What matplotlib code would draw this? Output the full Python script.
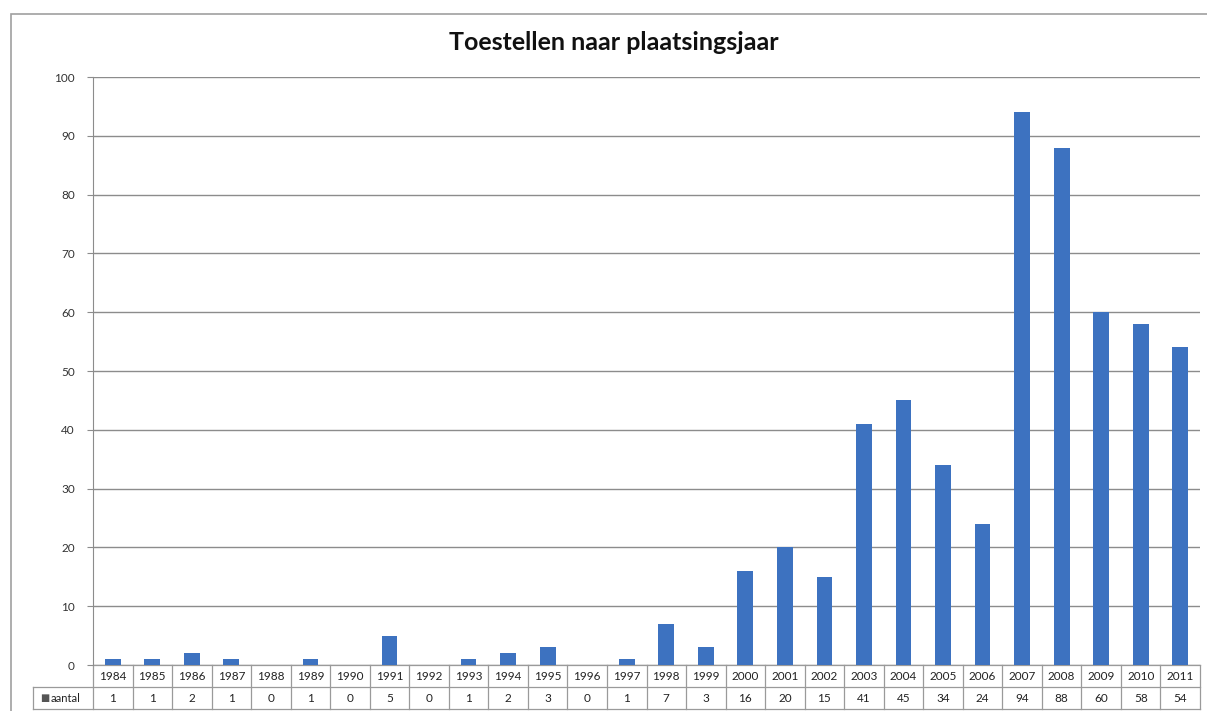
import matplotlib.pyplot as plt
from matplotlib.patches import Rectangle
from matplotlib.transforms import blended_transform_factory

years = [str(y) for y in range(1984, 2012)]
aantal = [1, 1, 2, 1, 0, 1, 0, 5, 0, 1, 2, 3, 0, 1, 7, 3,
          16, 20, 15, 41, 45, 34, 24, 94, 88, 60, 58, 54]
yticks = list(range(0, 101, 10))

bar_colour = '#3d72c0'
grid_colour = '#8c8c8c'

plt.rcParams['font.family'] = ['Lato', 'DejaVu Sans']

fig = plt.figure(figsize=(12.07, 7.11), dpi=100)
ax = fig.add_axes([93 / 1207, 1 - 665 / 711, 1107 / 1207, 588 / 711])

# outer chart frame
fig.patches.append(Rectangle((11 / 1207, -0.1), 1.2, 1 - 14 / 711 + 0.1,
                             transform=fig.transFigure, fill=False,
                             edgecolor='#a0a0a0', linewidth=1.2))

x = list(range(len(years)))
ax.bar(x, aantal, width=0.4, color=bar_colour, zorder=3)

ax.set_xlim(-0.5, len(years) - 0.5)
ax.set_ylim(0, 100)
ax.set_yticks(yticks)
ax.set_yticklabels([str(t) for t in yticks], fontsize=8.5, color='#333333')
ax.tick_params(axis='y', length=4, color=grid_colour, pad=9)
ax.set_xticks([])
ax.grid(axis='y', color=grid_colour, linewidth=1, zorder=0)
for s in ['top', 'right', 'bottom']:
    ax.spines[s].set_visible(False)
ax.spines['left'].set_color(grid_colour)

fig.text(614 / 1207, 1 - 43 / 711, 'Toestellen naar plaatsingsjaar',
         fontsize=18, fontweight='bold', ha='center', va='center',
         color='#111111')

# data table under the axis
tr = blended_transform_factory(ax.transData, ax.transAxes)
r1 = -22 / 588
r2 = -44 / 588
left_hdr = -0.5 - 60 / (1107 / len(years))
line_kw = dict(transform=tr, color='#9a9a9a', linewidth=0.9, clip_on=False)
ax.plot([-0.5, len(years) - 0.5], [0, 0], **line_kw)
ax.plot([left_hdr, len(years) - 0.5], [r1, r1], **line_kw)
ax.plot([left_hdr, len(years) - 0.5], [r2, r2], **line_kw)
ax.plot([left_hdr, left_hdr], [r1, r2], **line_kw)
for i in range(len(years) + 1):
    ax.plot([i - 0.5, i - 0.5], [0, r2], **line_kw)
for i, (yr, v) in enumerate(zip(years, aantal)):
    ax.text(i, r1 / 2, yr, transform=tr, ha='center', va='center',
            fontsize=8.5, color='#222222', clip_on=False)
    ax.text(i, (r1 + r2) / 2, str(v), transform=tr, ha='center', va='center',
            fontsize=8.5, color='#222222', clip_on=False)
ax.text(left_hdr + 0.3, (r1 + r2) / 2, '\u25a0', transform=tr, ha='center',
        va='center', fontsize=7, color='#555555', family=['DejaVu Sans'], clip_on=False)
ax.text(left_hdr + 0.45, (r1 + r2) / 2, 'aantal', transform=tr, ha='left',
        va='center', fontsize=8, color='#222222', clip_on=False)

fig.savefig('out.png', dpi=100)
